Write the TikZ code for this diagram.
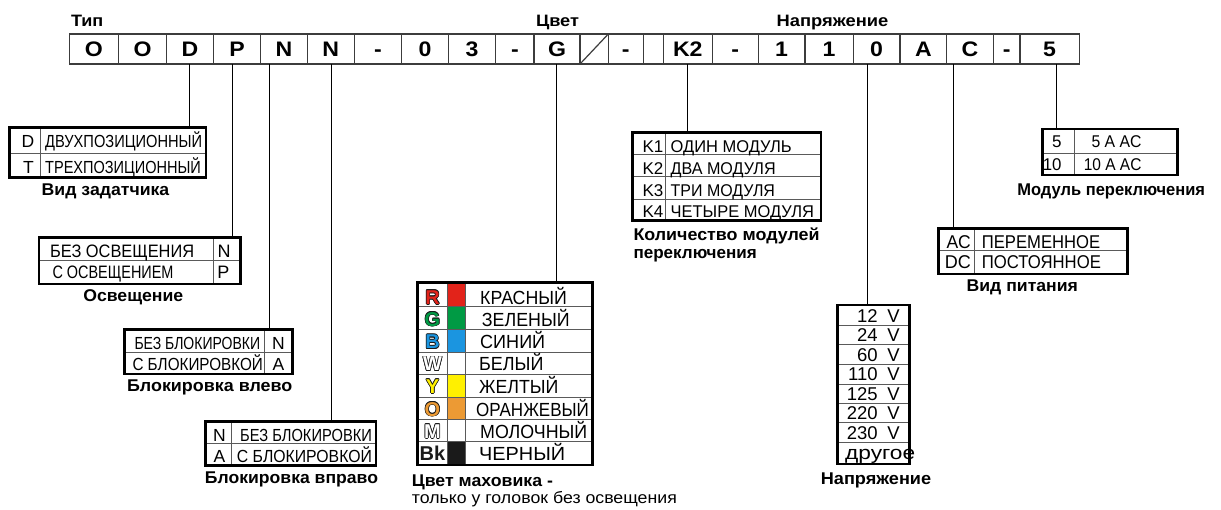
\documentclass[tikz,border=0pt]{standalone}
\usepackage{fontspec}
\usepackage{graphicx}
\setmainfont{Liberation Sans}
\usetikzlibrary{calc}
\definecolor{cline}{HTML}{3C3C3C}
\definecolor{iline}{HTML}{5A5A5A}
\definecolor{sred}{HTML}{E2231A}
\definecolor{sgreen}{HTML}{009A44}
\definecolor{sblue}{HTML}{1B95E0}
\definecolor{syellow}{HTML}{FFF000}
\definecolor{sorange}{HTML}{EC9A34}
\definecolor{sblack}{HTML}{1A1A1A}
\newcommand\fs[1]{\fontsize{#1}{#1}\selectfont}
\newcommand\fitw[2]{\resizebox{#1}{\height}{#2}}
\newcommand\vv[1]{#1\hspace{9.8pt}V}
\newcommand\olt[2]{%
\rlap{\kern-0.7pt\textcolor{sblack}{#2}}%
\rlap{\kern0.7pt\textcolor{sblack}{#2}}%
\rlap{\raisebox{0.7pt}{\textcolor{sblack}{#2}}}%
\rlap{\raisebox{-0.7pt}{\textcolor{sblack}{#2}}}%
\rlap{\kern-0.5pt\raisebox{0.5pt}{\textcolor{sblack}{#2}}}%
\rlap{\kern0.5pt\raisebox{0.5pt}{\textcolor{sblack}{#2}}}%
\rlap{\kern-0.5pt\raisebox{-0.5pt}{\textcolor{sblack}{#2}}}%
\rlap{\kern0.5pt\raisebox{-0.5pt}{\textcolor{sblack}{#2}}}%
\textcolor{#1}{#2}}
\begin{document}
\begin{tikzpicture}[x=1pt,y=-1pt,
 cell/.style={draw=cline,line width=1.2pt,inner sep=0pt,outer sep=0pt,anchor=north west,
   minimum height=30pt,text height=15pt,text depth=0pt,font=\fs{21}\bfseries},
 tbl/.style={draw=black,line width=2.6pt,inner sep=0pt,outer sep=0pt,anchor=north west},
 inl/.style={draw=iline,line width=0.9pt},
 conn/.style={draw=black,line width=1pt},
 tx/.style={inner sep=0pt,anchor=base west},
 txr/.style={inner sep=0pt,anchor=base east},
 txc/.style={inner sep=0pt,anchor=base},
 ttl/.style={inner sep=0pt,anchor=base,font=\fs{16.5}\bfseries},
 lbl/.style={inner sep=0pt,anchor=base,font=\fs{17}\bfseries},
 clet/.style={inner sep=0pt,anchor=base,font=\fs{20}\bfseries}
]
\useasboundingbox (0,0) rectangle (1221,509);
\fill[white] (0,0) rectangle (1221,509);

% titles
\node[ttl] (ttip) at (87.2,26.7) {\fitw{32.3pt}{Тип}};
\node[ttl] (tcv) at (557.5,26.7) {\fitw{43pt}{Цвет}};
\node[ttl] (tnap) at (832.5,26.7) {\fitw{111.7pt}{Напряжение}};

% code cells
\foreach \a/\b/\t [count=\i] in {69.3/118.3/O,118.3/166.7/O,166.7/213.3/D,213.3/260.7/P,260.7/307.3/N,307.3/354.3/N,354.3/401.7/-,401.7/448.3/0,448.3/495.7/3,495.7/534/-,534/580/G,580/608.3/{},608.3/643.3/-,643.3/663.3/{},663.3/712.3/K2,712.3/758.3/-,758.3/805/1,805/853.3/1,853.3/900/0,900/946.7/A,946.7/993.3/C,993.3/1020/-,1020/1079.3/5}
  \node[cell,minimum width={\b pt-\a pt}] (c\i) at (\a,34) {\scalebox{1.1}[1]{\t}};
\draw[draw=cline,line width=1.2pt] (c12.south west) -- (c12.north east);

% table 1: Вид задатчика
\draw[inl] (9.3,153.3) -- (206,153.3);
\draw[inl] (40.7,127.3) -- (40.7,177.7);
\node[tbl,minimum width=196.7pt,minimum height=50.4pt] (t1) at (9.3,127.3) {};
\node[txc,font=\fs{17.5}] (t1a) at (28,147.3) {D};
\node[txc,font=\fs{17.5}] (t1b) at (28.5,173.3) {T};
\node[tx,font=\fs{17.5}] (t1c) at (45,147.3) {\fitw{157pt}{ДВУХПОЗИЦИОННЫЙ}};
\node[tx,font=\fs{17.5}] (t1d) at (45,173.3) {\fitw{155.7pt}{ТРЕХПОЗИЦИОННЫЙ}};
\node[lbl] (l1) at (105.5,195) {\fitw{127.6pt}{Вид задатчика}};

% table 2: Освещение
\draw[inl] (39,260) -- (240.7,260);
\draw[inl] (213.3,237.3) -- (213.3,284);
\node[tbl,minimum width=201.7pt,minimum height=46.7pt] (t2) at (39,237.3) {};
\node[tx,font=\fs{18}] (t2a) at (50,257.3) {\fitw{144pt}{БЕЗ ОСВЕЩЕНИЯ}};
\node[tx,font=\fs{18}] (t2b) at (52.3,278.3) {\fitw{121pt}{С ОСВЕЩЕНИЕМ}};
\node[txc,font=\fs{18}] (t2c) at (224,257.3) {N};
\node[txc,font=\fs{18}] (t2d) at (223.5,278.3) {P};
\node[lbl] (l2) at (133.3,301.7) {\fitw{100pt}{Освещение}};

% table 3: Блокировка влево
\draw[inl] (124.3,352.3) -- (292.3,352.3);
\draw[inl] (264.3,329.3) -- (264.3,374);
\node[tbl,minimum width=168pt,minimum height=44.7pt] (t3) at (124.3,329.3) {};
\node[tx,font=\fs{17.5}] (t3a) at (134.3,349.3) {\fitw{125.7pt}{БЕЗ БЛОКИРОВКИ}};
\node[tx,font=\fs{17.5}] (t3b) at (132.3,370) {\fitw{130.4pt}{С БЛОКИРОВКОЙ}};
\node[txc,font=\fs{17.5}] (t3c) at (278.5,349.3) {N};
\node[txc,font=\fs{17.5}] (t3d) at (278.5,370) {A};
\node[lbl] (l3) at (209.7,391.7) {\fitw{165.3pt}{Блокировка влево}};

% table 4: Блокировка вправо
\draw[inl] (205.7,443.3) -- (376,443.3);
\draw[inl] (231.7,421.7) -- (231.7,465.7);
\node[tbl,minimum width=170.3pt,minimum height=44pt] (t4) at (205.7,421.7) {};
\node[txc,font=\fs{17.5}] (t4a) at (219.5,441.7) {N};
\node[txc,font=\fs{17.5}] (t4b) at (219.5,462.3) {A};
\node[tx,font=\fs{17.5}] (t4c) at (240,441.7) {\fitw{131.7pt}{БЕЗ БЛОКИРОВКИ}};
\node[tx,font=\fs{17.5}] (t4d) at (236.7,462.3) {\fitw{135pt}{С БЛОКИРОВКОЙ}};
\node[lbl] (l4) at (291.5,483.3) {\fitw{173pt}{Блокировка вправо}};

% table 5: colours
\fill[sred] (447.7,282.3) rectangle (465,306.7);
\fill[sgreen] (447.7,306.7) rectangle (465,329.3);
\fill[sblue] (447.7,329.3) rectangle (465,352);
\fill[syellow] (447.7,374.3) rectangle (465,397);
\fill[sorange] (447.7,397) rectangle (465,419.3);
\fill[sblack] (447.7,441.7) rectangle (465,465);
\foreach \y in {306.7,329.3,352,374.3,397,419.3,441.7}
  \draw[inl] (417.3,\y) -- (592.7,\y);
\draw[inl] (447.7,282.3) -- (447.7,465);
\draw[inl] (465,282.3) -- (465,465);
\node[tbl,minimum width=175.4pt,minimum height=182.7pt] (t5) at (417.3,282.3) {};
\node[clet] (r1) at (432.5,304.3) {\olt{sred}{R}};
\node[clet] (r2) at (432.5,326.2) {\olt{sgreen}{G}};
\node[clet] (r3) at (432.5,348.5) {\olt{sblue}{B}};
\node[clet] (r4) at (432.5,370.8) {\olt{white}{W}};
\node[clet] (r5) at (432.5,393.3) {\olt{syellow}{Y}};
\node[clet] (r6) at (432.5,416) {\olt{sorange}{O}};
\node[clet] (r7) at (432.5,438.3) {\olt{white}{M}};
\node[clet] (r8) at (432.5,460.7) {\textcolor{sblack}{Bk}};
\node[tx,font=\fs{19}] (n1) at (480,304.3) {\fitw{86.7pt}{КРАСНЫЙ}};
\node[tx,font=\fs{19}] (n2) at (481.7,326.2) {\fitw{87.7pt}{ЗЕЛЕНЫЙ}};
\node[tx,font=\fs{19}] (n3) at (480,348.5) {\fitw{65pt}{СИНИЙ}};
\node[tx,font=\fs{19}] (n4) at (479,370.8) {\fitw{64.3pt}{БЕЛЫЙ}};
\node[tx,font=\fs{19}] (n5) at (479,393.3) {\fitw{79.3pt}{ЖЕЛТЫЙ}};
\node[tx,font=\fs{19}] (n6) at (476,416) {\fitw{112.7pt}{ОРАНЖЕВЫЙ}};
\node[tx,font=\fs{19}] (n7) at (480,438.3) {\fitw{107pt}{МОЛОЧНЫЙ}};
\node[tx,font=\fs{19}] (n8) at (479,460.7) {\fitw{86pt}{ЧЕРНЫЙ}};
\node[tx,font=\fs{17}\bfseries] (l5a) at (411.7,486) {\fitw{141pt}{Цвет маховика -}};
\node[tx,font=\fs{16.5}] (l5b) at (411.7,503.3) {\fitw{265pt}{только у головок без освещения}};

% table 6: modules count
\foreach \y in {154.3,176.7,199}
  \draw[inl] (632.3,\y) -- (821,\y);
\draw[inl] (665,132.3) -- (665,220.7);
\node[tbl,minimum width=188.7pt,minimum height=88.4pt] (t6) at (632.3,132.3) {};
\node[txc,font=\fs{17}] (k1) at (653,152.3) {K1};
\node[txc,font=\fs{17}] (k2) at (653,174.5) {K2};
\node[txc,font=\fs{17}] (k3) at (653,196.5) {K3};
\node[txc,font=\fs{17}] (k4) at (653,217.5) {K4};
\node[tx,font=\fs{17}] (m1) at (670.5,152.3) {\fitw{121pt}{ОДИН МОДУЛЬ}};
\node[tx,font=\fs{17}] (m2) at (670.5,174.5) {\fitw{105pt}{ДВА МОДУЛЯ}};
\node[tx,font=\fs{17}] (m3) at (670.5,196.5) {\fitw{104.3pt}{ТРИ МОДУЛЯ}};
\node[tx,font=\fs{17}] (m4) at (670.5,217.5) {\fitw{143.3pt}{ЧЕТЫРЕ МОДУЛЯ}};
\node[tx,font=\fs{17}\bfseries] (l6a) at (633.3,240.7) {\fitw{186pt}{Количество модулей}};
\node[tx,font=\fs{17}\bfseries] (l6b) at (633.3,258.3) {\fitw{123.3pt}{переключения}};

% table 7: switching module
\draw[inl] (1042.3,153.3) -- (1177.7,153.3);
\draw[inl] (1074,129) -- (1074,175);
\node[tbl,minimum width=135.4pt,minimum height=46pt] (t7) at (1042.3,129) {};
\node[txr,font=\fs{17}] (p1) at (1061.7,147.3) {5};
\node[txr,font=\fs{17}] (p2) at (1061.7,170) {\fitw{18.7pt}{10}};
\node[txr,font=\fs{17}] (p3) at (1141.7,147.3) {\fitw{50pt}{5 A AC}};
\node[txr,font=\fs{17}] (p4) at (1141.7,170) {\fitw{57.7pt}{10 A AC}};
\node[lbl] (l7) at (1111.2,195) {\fitw{187.7pt}{Модуль переключения}};

% table 8: power type
\draw[inl] (938.3,250.7) -- (1127.3,250.7);
\draw[inl] (974,228.3) -- (974,274);
\node[tbl,minimum width=189pt,minimum height=45.7pt] (t8) at (938.3,228.3) {};
\node[txr,font=\fs{18.5}] (q1) at (971,248.3) {\fitw{24.3pt}{AC}};
\node[txr,font=\fs{18.5}] (q2) at (971,268.3) {\fitw{26pt}{DC}};
\node[tx,font=\fs{18.5}] (q3) at (981.7,248.3) {\fitw{118.3pt}{ПЕРЕМЕННОЕ}};
\node[tx,font=\fs{18.5}] (q4) at (981.7,268.3) {\fitw{119pt}{ПОСТОЯННОЕ}};
\node[lbl] (l8) at (1022.3,291.7) {\fitw{111.3pt}{Вид питания}};

% table 9: voltage
\foreach \y in {325,344.3,364,384.3,403.3,422.7,442.7}
  \draw[inl] (837.3,\y) -- (909.3,\y);
\node[tbl,minimum width=72pt,minimum height=159pt] (t9) at (837.3,305) {};
\node[txr,font=\fs{18.5}] (v1) at (900,322.7) {\vv{12}};
\node[txr,font=\fs{18.5}] (v2) at (900,341.7) {\vv{24}};
\node[txr,font=\fs{18.5}] (v3) at (900,361.7) {\vv{60}};
\node[txr,font=\fs{18.5}] (v4) at (900,380.7) {\vv{110}};
\node[txr,font=\fs{18.5}] (v5) at (900,400) {\vv{125}};
\node[txr,font=\fs{18.5}] (v6) at (900,419.3) {\vv{220}};
\node[txr,font=\fs{18.5}] (v7) at (900,439.3) {\vv{230}};
\node[tx,font=\fs{19}] (v8) at (845,459) {\fitw{70pt}{другое}};
\node[lbl] (l9) at (876,484) {\fitw{110.3pt}{Напряжение}};

% connectors
\coordinate (xD) at (189.3,0);
\coordinate (xP) at (232.3,0);
\coordinate (xN) at (269.3,0);
\coordinate (xM) at (331,0);
\coordinate (xG) at (556.7,0);
\coordinate (xK) at (687.7,0);
\coordinate (xZ) at (867.7,0);
\coordinate (xC) at (953.3,0);
\coordinate (xF) at (1056,0);
\draw[conn] (c3.south -| xD) -- (t1.north -| xD);
\draw[conn] (c4.south -| xP) -- (t2.north -| xP);
\draw[conn] (c5.south -| xN) -- (t3.north -| xN);
\draw[conn] (c6.south -| xM) -- (t4.north -| xM);
\draw[conn] (c11.south -| xG) -- (t5.north -| xG);
\draw[conn] (c15.south -| xK) -- (t6.north -| xK);
\draw[conn] (c19.south -| xZ) -- (t9.north -| xZ);
\draw[conn] (c21.south -| xC) -- (t8.north -| xC);
\draw[conn] (c23.south -| xF) -- (t7.north -| xF);
\end{tikzpicture}
\end{document}
